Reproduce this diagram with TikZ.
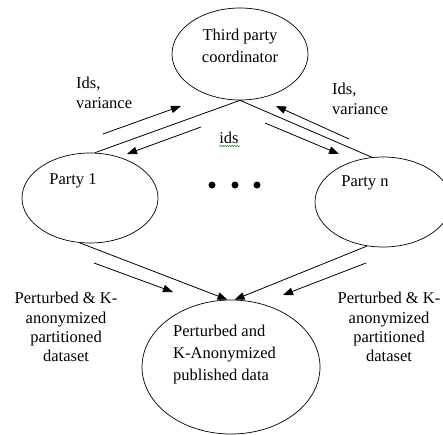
\documentclass[tikz,border=0pt]{standalone}
\usepackage{fontspec}
\setmainfont{Liberation Serif}
\usetikzlibrary{arrows.meta,shapes.geometric,decorations.pathmorphing}
\begin{document}
\begin{tikzpicture}[x=1pt,y=-1pt,
  oval/.style={draw,ellipse,line width=0.7pt,inner sep=0pt},
  lbl/.style={inner sep=0pt,font=\fontsize{16.5}{20}\selectfont},
  link/.style={line width=0.8pt},
  flow/.style={line width=0.8pt,-{Triangle[length=10pt,width=7.5pt]}},
  dot/.style={circle,fill=black,inner sep=0pt,minimum size=7pt}]
\useasboundingbox (0,0) rectangle (443,434);
\clip (0,0) rectangle (443,434);
\fill[white] (0,0) rectangle (443,434);
% ellipses
\node[oval,minimum width=136pt,minimum height=92pt] (top) at (240,54) {};
\node[oval,minimum width=136pt,minimum height=90pt] (p1) at (90,198) {};
\node[oval,minimum width=136pt,minimum height=90pt] (pn) at (383,202) {};
\node[oval,minimum width=178pt,minimum height=134pt] (bot) at (231,367) {};
% texts
\node[lbl,align=center,font=\fontsize{16.5}{22}\selectfont] (ttop) at (240,46) {Third party\\coordinator};
\node[lbl,align=left,anchor=west] (iv1) at (76,93) {Ids,\\variance};
\node[lbl,align=left,anchor=west] (iv2) at (332,99) {Ids,\\variance};
\node[lbl] (ids) at (229,138) {ids};
\draw[green!55!black,line width=0.5pt,decorate,decoration={snake,amplitude=0.6pt,segment length=2.5pt}] (ids.south west) ++(0,2) -- ++(21,0);
\node[lbl] (tp1) at (73,181) {Party 1};
\node[lbl] (tpn) at (365,183) {Party n};
\node[dot] (d1) at (212,185) {};
\node[dot] (d2) at (235,185) {};
\node[dot] (d3) at (257,185) {};
\node[lbl,align=center,font=\fontsize{16.5}{19.3}\selectfont] (pk1) at (66,327) {Perturbed \& K-\\anonymized\\partitioned\\dataset};
\node[lbl,align=center,font=\fontsize{16.5}{19.3}\selectfont] (pkn) at (389,327) {Perturbed \& K-\\anonymized\\partitioned\\dataset};
\node[lbl,align=left,anchor=west,font=\fontsize{16.5}{22}\selectfont] (tbot) at (173,355) {Perturbed and\\K-Anonymized\\published data};
% connector lines
\draw[link] (top.south) -- (p1.84);
\draw[link] (top.south) -- (pn.104);
\draw[flow] (p1.257) -- (bot.93);
\draw[flow] (pn.250) -- (bot.87);
% free arrows
\coordinate (a1s) at (103,134); \coordinate (a1e) at (181,106);
\coordinate (a2s) at (201,127); \coordinate (a2e) at (127,154);
\coordinate (a3s) at (265,123); \coordinate (a3e) at (339,154);
\coordinate (a4s) at (349,139); \coordinate (a4e) at (276,106);
\coordinate (a5s) at (94,263);  \coordinate (a5e) at (173,292);
\coordinate (a6s) at (366,263); \coordinate (a6e) at (283,295);
\draw[flow] (a1s) -- (a1e);
\draw[flow] (a2s) -- (a2e);
\draw[flow] (a3s) -- (a3e);
\draw[flow] (a4s) -- (a4e);
\draw[flow] (a5s) -- (a5e);
\draw[flow] (a6s) -- (a6e);
\end{tikzpicture}
\end{document}
